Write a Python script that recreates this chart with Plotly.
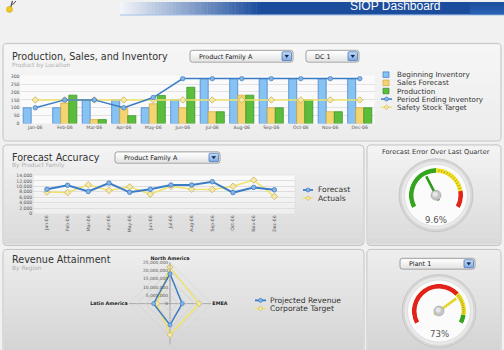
import plotly.graph_objects as go

W, H = 504, 350

# ---------------- data ----------------
months = ["Jan-06", "Feb-06", "Mar-06", "Apr-06", "May-06", "Jun-06",
          "Jul-06", "Aug-06", "Sep-06", "Oct-06", "Nov-06", "Dec-06"]
beginning_inventory = [100, 100, 150, 150, 100, 150, 285, 285, 285, 285, 285, 285]
sales_forecast = [None, 130, 25, 100, 125, 100, 75, 180, 100, 150, 75, 100]
production = [None, 180, 25, 50, 178, 230, 75, 180, 100, 150, 75, 100]
period_ending_inventory = [100, 150, 150, 100, 165, 285, 285, 285, 285, 285, 285, 285]
safety_stock_target = [150, 150, 150, 150, 150, 150, 150, 150, 150, 150, 150, 150]
inventory_ticks = [0, 50, 100, 150, 200, 250, 300]

forecast = [8900, 10400, 8100, 11200, 7800, 8900, 10500, 10500, 11700, 7700, 9600, 8700]
actuals = [7900, 7700, 10600, 8500, 9800, 7100, 10000, 8900, 8800, 10000, 12300, 6300]
accuracy_ticks = [0, 2000, 4000, 6000, 8000, 10000, 12000, 14000]

regions = ["North America", "EMEA", "Asia Pacific", "Latin America"]
region_labels = ["North America", "EMEA", "", "Latin America"]   # bottom label is off-screen
projected_revenue = [18200000, 7400000, 13000000, 10000000]
corporate_target = [22200000, 17600000, 19000000, 8000000]
revenue_ticks = [0, 5000000, 10000000, 15000000, 20000000, 25000000]

forecast_error = 9.6
forecast_error_band_edges = [0, 12.5, 21, 25]
plant_attainment = 73
plant_band_edges = [0, 70, 92, 100]

# ---------------- helpers ----------------
def X(px):
    return px / W


def Y(py):
    return 1 - py / H


FONT = "DejaVu Sans"
shapes = []
annotations = []


def hexlerp(c1, c2, t):
    a = [int(c1[i:i + 2], 16) for i in (1, 3, 5)]
    b = [int(c2[i:i + 2], 16) for i in (1, 3, 5)]
    return "#" + "".join("%02x" % int(round(a[k] + (b[k] - a[k]) * t)) for k in range(3))


def grad_rect(x0, y0, x1, y1, ctop, cbot, n=14, layer="below"):
    for i in range(n):
        ya = y0 + (y1 - y0) * i / n
        yb = y0 + (y1 - y0) * (i + 1) / n + 0.4
        shapes.append(dict(type="rect", xref="paper", yref="paper",
                           x0=X(x0), x1=X(x1), y0=Y(min(yb, y1)), y1=Y(ya),
                           fillcolor=hexlerp(ctop, cbot, (i + 0.5) / n),
                           line=dict(width=0), layer=layer))


def rrect_path(x0, y0, x1, y1, r):
    p = [("M", x0 + r, y0), ("L", x1 - r, y0), ("Q", x1, y0, x1, y0 + r),
         ("L", x1, y1 - r), ("Q", x1, y1, x1 - r, y1), ("L", x0 + r, y1),
         ("Q", x0, y1, x0, y1 - r), ("L", x0, y0 + r), ("Q", x0, y0, x0 + r, y0)]
    s = ""
    for seg_ in p:
        cmd = seg_[0]
        coords = seg_[1:]
        pts = []
        for k in range(0, len(coords), 2):
            pts.append("%.5f,%.5f" % (X(coords[k]), Y(coords[k + 1])))
        s += cmd + " " + " ".join(pts) + " "
    return s + "Z"


def add_path(path, fill=None, line="#000", lw=1.0, layer="below"):
    shapes.append(dict(type="path", xref="paper", yref="paper", path=path,
                       fillcolor=fill if fill else "rgba(0,0,0,0)",
                       line=dict(color=line, width=lw), layer=layer))


def circle(cx, cy, r, fill, line="rgba(0,0,0,0)", lw=0, layer="below"):
    shapes.append(dict(type="circle", xref="paper", yref="paper",
                       x0=X(cx - r), x1=X(cx + r), y0=Y(cy + r), y1=Y(cy - r),
                       fillcolor=fill, line=dict(color=line, width=lw), layer=layer))


def rect(x0, y0, x1, y1, fill, line="rgba(0,0,0,0)", lw=0, layer="below"):
    shapes.append(dict(type="rect", xref="paper", yref="paper",
                       x0=X(x0), x1=X(x1), y0=Y(y1), y1=Y(y0),
                       fillcolor=fill, line=dict(color=line, width=lw), layer=layer))


def seg(x0, y0, x1, y1, color, lw, layer="below"):
    shapes.append(dict(type="line", xref="paper", yref="paper",
                       x0=X(x0), x1=X(x1), y0=Y(y0), y1=Y(y1),
                       line=dict(color=color, width=lw), layer=layer))


def diamond(cx, cy, s, fill, line, lw=0.6, layer="below"):
    path = "M %.5f,%.5f L %.5f,%.5f L %.5f,%.5f L %.5f,%.5f Z" % (
        X(cx), Y(cy - s), X(cx + s), Y(cy), X(cx), Y(cy + s), X(cx - s), Y(cy))
    add_path(path, fill, line, lw, layer)


def text(x, y, s, size, color="#333", anchor="left", bold=False, family=FONT):
    annotations.append(dict(x=X(x), y=Y(y), xref="paper", yref="paper", text=s,
                            showarrow=False, xanchor=anchor, yanchor="middle",
                            font=dict(family=family, size=size, color=color,
                                      weight=700 if bold else 400)))


def dropdown(x0, y0, x1, y1, label):
    grad_rect(x0 + 1, y0 + 1, x1 - 1, y1 - 1, "#ffffff", "#e4e4e4", n=6)
    add_path(rrect_path(x0, y0, x1, y1, 2.5), None, "#8c8c8c", 0.8)
    bx0, bx1 = x1 - 11, x1 - 1.5
    grad_rect(bx0, y0 + 1.5, bx1, y1 - 1.5, "#c4dcf7", "#7eaae0", n=5)
    add_path(rrect_path(bx0, y0 + 1.5, bx1, y1 - 1.5, 1.2), None, "#3b6cb5", 0.7)
    cx, cy = (bx0 + bx1) / 2, (y0 + y1) / 2
    add_path("M %.5f,%.5f L %.5f,%.5f L %.5f,%.5f Z" % (
        X(cx - 2), Y(cy - 1.2), X(cx + 2), Y(cy - 1.2), X(cx), Y(cy + 1.5)),
        "#14254d", "#14254d", 0.3)
    text(x0 + 6.5, (y0 + y1) / 2 + 0.3, label, 6.4, "#1a1a1a")


# ---------------- colours ----------------
C_BLUE_BAR, C_BLUE_BAR_LINE = "#86c3f2", "#3f78c8"
C_YEL_BAR, C_YEL_BAR_LINE = "#f2d470", "#d9a53a"
C_GRN_BAR, C_GRN_BAR_LINE = "#5cbc3c", "#2f8f1f"
C_BLUE_LINE, C_BLUE_MK = "#3b7cc4", "#86b4e4"
C_YEL_LINE, C_YEL_MK, C_YEL_MK_LINE = "#efe36a", "#f3e9a8", "#c9a94a"
GAUGE_GREEN, GAUGE_YELLOW, GAUGE_RED = "#35a51f", "#f1e22a", "#e2231a"

# ---------------- background / banner ----------------
n = 40
for i in range(n):
    xa = 120 + (260 - 120) * i / n
    xb = 120 + (260 - 120) * (i + 1) / n + 0.4
    rect(xa, 0, xb, 13, hexlerp("#f4f6fa", "#1b4d9c", (i + 0.5) / n))
rect(260, 0, 504, 13, "#1b4d9c")
grad_rect(470, 0, 504, 13, "#1b4d9c", "#2a62b4", n=4)
seg(120, 13.2, 504, 13.2, "#8fb4e8", 0.8)
text(395, 4.2, "SIOP Dashboard", 12.0, "#ffffff", anchor="center", family="Liberation Sans")
# small logo
seg(10.5, 6, 12.5, -1, "#4a4a4a", 1.2)
seg(12.5, 3, 16, -1, "#4a4a4a", 1.0)
circle(9.5, 7.5, 3, "#f2c81c", "#c89a10", 0.5)

# ---------------- panels ----------------
panels = [
    (3, 42, 501, 141, "#f6f6f6", "#ececec"),
    (3, 145, 364, 247, "#f4f4f4", "#d9d9d9"),
    (367, 145, 501, 247, "#f4f4f4", "#d9d9d9"),
    (3, 251, 364, 358, "#eeeeee", "#d3d3d3"),
    (367, 251, 501, 358, "#eeeeee", "#d3d3d3"),
]
for (x0, y0, x1, y1, ct, cb) in panels:
    grad_rect(x0 + 1, y0 + 1, x1 - 1, y1 - 1, ct, cb)
    add_path(rrect_path(x0, y0, x1, y1, 4), None, "#c2c2c2", 1.0)

# plot area backgrounds
rect(20.5, 74.5, 374.5, 123.3, "#fafafa")
grad_rect(33.3, 175.5, 295, 215, "#fbfbfb", "#eeeeee", n=8)
add_path(rrect_path(33.3, 175.5, 295, 215, 0.5), None, "#dadada", 0.5)

# titles
text(10, 55, "Production, Sales, and Inventory", 9.6, "#333333")
text(10, 64.5, "Product by Location", 5.9, "#b0b0b0")
text(10, 157.5, "Forecast Accuracy", 9.6, "#333333")
text(10, 166, "By Product Family", 5.9, "#b0b0b0")
text(10, 261, "Revenue Attainment", 9.6, "#333333")
text(10, 270, "By Region", 5.9, "#b0b0b0")
text(436, 152.5, "Forecast Error Over Last Quarter", 6.6, "#333333", anchor="center")

dropdown(190, 49, 293, 61, "Product Family A")
dropdown(306, 49, 359, 61, "DC 1")
dropdown(115, 152, 220, 163.5, "Product Family A")
dropdown(400, 260, 475, 271, "Plant 1")

# ---------------- legends (manual) ----------------
LEG = 7.2
rows = [73.7, 82, 90.3, 98.5, 106.8]
for yy, fc, lc in zip(rows[:3], [C_BLUE_BAR, C_YEL_BAR, C_GRN_BAR],
                      [C_BLUE_BAR_LINE, C_YEL_BAR_LINE, C_GRN_BAR_LINE]):
    rect(383, yy - 2.8, 389, yy + 2.8, fc, lc, 0.7)
seg(381, rows[3], 392, rows[3], C_BLUE_LINE, 1.5)
circle(386.5, rows[3], 2, C_BLUE_MK, C_BLUE_LINE, 0.7)
seg(381, rows[4], 392, rows[4], C_YEL_LINE, 1.5)
diamond(386.5, rows[4], 2.4, C_YEL_MK, C_YEL_MK_LINE)
for yy, s in zip(rows, ["Beginning Inventory", "Sales Forecast", "Production",
                        "Period Ending Inventory", "Safety Stock Target"]):
    text(395, yy, s, LEG, "#333333")

for yy, s, kind in [(190.7, "Forecast", "c"), (199, "Actuals", "d")]:
    if kind == "c":
        seg(303, yy, 313, yy, C_BLUE_LINE, 1.8)
        circle(308, yy, 2, C_BLUE_MK, C_BLUE_LINE, 0.7)
    else:
        seg(303, yy, 313, yy, C_YEL_LINE, 1.5)
        diamond(308, yy, 2.4, C_YEL_MK, C_YEL_MK_LINE)
    text(315.5, yy, s, 7.6, "#333333")

for yy, s, kind in [(302.7, "Projected Revenue", "c"), (311, "Corporate Target", "d")]:
    if kind == "c":
        seg(255, yy, 266, yy, C_BLUE_LINE, 1.8)
        circle(260.5, yy, 2, C_BLUE_MK, C_BLUE_LINE, 0.7)
    else:
        seg(255, yy, 266, yy, C_YEL_LINE, 1.5)
        diamond(260.5, yy, 2.4, C_YEL_MK, C_YEL_MK_LINE)
    text(268, yy, s, 7.6, "#333333")

# ---------------- traces ----------------
fig = go.Figure()

fig.add_trace(go.Bar(x=months, y=beginning_inventory, name="Beginning Inventory",
                     marker=dict(color=C_BLUE_BAR, line=dict(color=C_BLUE_BAR_LINE, width=0.7)),
                     xaxis="x", yaxis="y"))
fig.add_trace(go.Bar(x=months, y=sales_forecast, name="Sales Forecast",
                     marker=dict(color=C_YEL_BAR, line=dict(color=C_YEL_BAR_LINE, width=0.7)),
                     xaxis="x", yaxis="y"))
fig.add_trace(go.Bar(x=months, y=production, name="Production",
                     marker=dict(color=C_GRN_BAR, line=dict(color=C_GRN_BAR_LINE, width=0.7)),
                     xaxis="x", yaxis="y"))
fig.add_trace(go.Scatter(x=months, y=safety_stock_target, mode="lines+markers",
                         name="Safety Stock Target",
                         line=dict(color=C_YEL_LINE, width=1.5),
                         marker=dict(symbol="diamond", size=5, color=C_YEL_MK,
                                     line=dict(color=C_YEL_MK_LINE, width=0.7)),
                         xaxis="x", yaxis="y"))
fig.add_trace(go.Scatter(x=months, y=period_ending_inventory, mode="lines+markers",
                         name="Period Ending Inventory",
                         line=dict(color=C_BLUE_LINE, width=1.5),
                         marker=dict(symbol="circle", size=4.5, color=C_BLUE_MK,
                                     line=dict(color=C_BLUE_LINE, width=0.7)),
                         xaxis="x", yaxis="y"))

fig.add_trace(go.Scatter(x=months, y=actuals, mode="lines+markers", name="Actuals",
                         line=dict(color=C_YEL_LINE, width=1.5),
                         marker=dict(symbol="diamond", size=5, color=C_YEL_MK,
                                     line=dict(color=C_YEL_MK_LINE, width=0.7)),
                         xaxis="x2", yaxis="y2"))
fig.add_trace(go.Scatter(x=months, y=forecast, mode="lines+markers", name="Forecast",
                         line=dict(color=C_BLUE_LINE, width=2),
                         marker=dict(symbol="circle", size=4.5, color=C_BLUE_MK,
                                     line=dict(color=C_BLUE_LINE, width=0.8)),
                         xaxis="x2", yaxis="y2"))

# radar
fig.add_trace(go.Scatterpolar(r=corporate_target + corporate_target[:1],
                              theta=regions + regions[:1], mode="lines+markers",
                              name="Corporate Target",
                              line=dict(color=C_YEL_LINE, width=1.5),
                              marker=dict(symbol="diamond", size=4.5, color=C_YEL_MK,
                                          line=dict(color=C_YEL_MK_LINE, width=0.6)),
                              subplot="polar"))
fig.add_trace(go.Scatterpolar(r=projected_revenue + projected_revenue[:1],
                              theta=regions + regions[:1], mode="lines+markers",
                              name="Projected Revenue",
                              line=dict(color=C_BLUE_LINE, width=1.5),
                              marker=dict(symbol="circle", size=4, color=C_BLUE_MK,
                                          line=dict(color=C_BLUE_LINE, width=0.6)),
                              subplot="polar"))

# gauges
SWEEP = 118.0


def gauge_angle(v, vmax):
    return -SWEEP + 2 * SWEEP * v / vmax


def add_gauge(subplot, value, edges, colors, needle_color, tick_band):
    vmax = edges[-1]
    th, wd = [], []
    for a, b in zip(edges[:-1], edges[1:]):
        ta, tb = gauge_angle(a, vmax), gauge_angle(b, vmax)
        th.append((ta + tb) / 2)
        wd.append(tb - ta)
    fig.add_trace(go.Barpolar(r=[0.17] * len(th), base=[0.83] * len(th), theta=th, width=wd,
                              marker=dict(color=colors, line=dict(width=0)),
                              subplot=subplot, hoverinfo="skip"))
    a, b = edges[tick_band], edges[tick_band + 1]
    nt = 12
    for k in range(1, nt):
        t = gauge_angle(a + (b - a) * k / nt, vmax)
        fig.add_trace(go.Scatterpolar(r=[0.86, 0.95], theta=[t, t], mode="lines",
                                      line=dict(color="#8a7d1c", width=0.6),
                                      subplot=subplot, hoverinfo="skip"))
    ang = gauge_angle(value, vmax)
    fig.add_trace(go.Scatterpolar(r=[0.22, 0, 0.78], theta=[ang + 180, ang, ang],
                                  mode="lines", line=dict(color=needle_color, width=2.6),
                                  subplot=subplot, hoverinfo="skip"))


add_gauge("polar2", forecast_error, forecast_error_band_edges,
          [GAUGE_GREEN, GAUGE_YELLOW, GAUGE_RED], "#2f9a1c", 1)
add_gauge("polar3", plant_attainment, plant_band_edges,
          [GAUGE_RED, GAUGE_YELLOW, GAUGE_GREEN], "#e6d52c", 1)

for tr in fig.data:
    tr.showlegend = False

# gauge bezels (below) and knobs (above)
G1 = (436, 196)
G2 = (439, 313.5)
R_ARC = 27.5
for (cx, cy) in (G1, G2):
    circle(cx, cy, 37, "#d6d6d6", "#c2c2c2", 0.8)
    circle(cx, cy, 34.5, "#e9e9e9")
    circle(cx, cy, 31.5, "#fbfbfb", "#d2d2d2", 0.6)
    circle(cx, cy, 5, "#c6c6c6", "#9c9c9c", 0.6, layer="above")
    circle(cx - 0.8, cy - 1, 2.6, "#e6e6e6", layer="above")

text(G1[0], 221, "%.1f%%" % forecast_error, 8.6, "#555555", anchor="center")
text(G2[0], 337, "%d%%" % plant_attainment, 8.6, "#555555", anchor="center")

# ---------------- layout ----------------
TICKF = dict(family=FONT, size=4.6, color="#555555")


def polar_domain(cx, cy, r):
    return dict(x=[X(cx - r), X(cx + r)], y=[Y(cy + r), Y(cy - r)])


def gauge_polar(c):
    return dict(
        domain=polar_domain(c[0], c[1], R_ARC), bgcolor="rgba(0,0,0,0)",
        angularaxis=dict(visible=False, direction="clockwise", rotation=90,
                         showgrid=False, showline=False, showticklabels=False, ticks=""),
        radialaxis=dict(visible=False, range=[0, 1], showgrid=False, showline=False,
                        showticklabels=False, ticks=""))


fig.update_layout(
    width=W, height=H, autosize=False,
    margin=dict(l=0, r=0, t=0, b=0, pad=0),
    paper_bgcolor="#f1f1f1", plot_bgcolor="rgba(0,0,0,0)",
    barmode="group", bargap=0.18, bargroupgap=0,
    showlegend=False,
    font=dict(family=FONT, color="#333"),
    xaxis=dict(domain=[X(20.5), X(374.5)], anchor="y", type="category",
               range=[-0.5, 11.5], tickfont=TICKF, showgrid=False, zeroline=False,
               ticks="", showline=False, fixedrange=True),
    yaxis=dict(domain=[Y(123.3), Y(75.3)], anchor="x", range=[0, 300],
               tickvals=inventory_ticks, tickfont=TICKF, gridcolor="#e3e3e3",
               gridwidth=0.6, zeroline=False, ticks="", showline=False),
    xaxis2=dict(domain=[X(33.3), X(295)], anchor="y2", type="category",
                range=[-0.66, 12.0], tickfont=TICKF, tickangle=-90, showgrid=False,
                zeroline=False, ticks="", showline=False),
    yaxis2=dict(domain=[Y(214.5), Y(176)], anchor="x2", range=[0, 14000],
                tickvals=accuracy_ticks, tickformat=",", tickfont=TICKF,
                gridcolor="#dedede", gridwidth=0.6, zeroline=False, ticks="",
                showline=False),
    polar=dict(domain=polar_domain(170, 306, 41.7), bgcolor="rgba(0,0,0,0)",
               gridshape="linear",
               angularaxis=dict(direction="clockwise", rotation=90, type="category",
                                categoryarray=regions, tickmode="array",
                                tickvals=regions, ticktext=region_labels,
                                tickfont=dict(family=FONT, size=4.8, color="#222",
                                              weight=700),
                                showline=True, linecolor="#d4d4d4", linewidth=0.6,
                                gridcolor="#a9a9a9", gridwidth=0.8, ticks=""),
               radialaxis=dict(range=[0, 25000000], tickvals=revenue_ticks,
                               tickprefix="$", tickformat=",", angle=90,
                               side="counterclockwise", tickangle=90,
                               tickfont=dict(family=FONT, size=4.4, color="#555"),
                               gridcolor="#d4d4d4", gridwidth=0.6, showline=True,
                               linecolor="#a9a9a9", linewidth=0.8, ticks="")),
    polar2=gauge_polar(G1),
    polar3=gauge_polar(G2),
    shapes=shapes,
    annotations=annotations,
)

fig.write_html("out.html")
